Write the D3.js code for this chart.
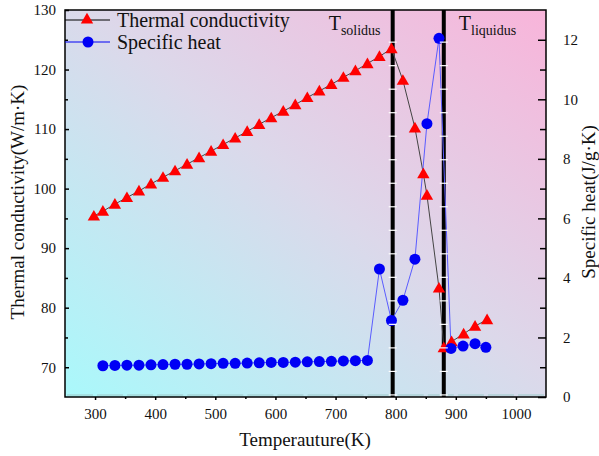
<!DOCTYPE html>
<html><head><meta charset="utf-8">
<script src="https://cdn.jsdelivr.net/npm/d3@7"></script>
<style>body{margin:0;background:#fff}svg{display:block;font-family:"Liberation Serif","Times New Roman",serif}svg text{font-family:"Liberation Serif","Times New Roman",serif}</style>
</head><body><svg id="c" width="599" height="456"></svg>
<script>
// ---- data ----
const tcTemps = [298,313,333,353,373,393,413,433,453,473,493,513,533,553,573,593,613,633,653,673,693,713,733,753,773,793,812,832,846,852,872,880,893,913,932,952];
const tcValues = [95.4,96.2,97.4,98.5,99.6,100.8,101.9,103.0,104.1,105.2,106.3,107.4,108.5,109.6,110.8,111.9,113.0,114.1,115.3,116.4,117.5,118.7,119.8,121.0,122.2,123.5,118.2,110.2,102.5,98.9,83.3,73.3,74.3,75.6,76.9,78.0];
const shTemps = [313,333,353,373,393,413,433,453,473,493,513,533,553,573,593,613,633,653,673,693,713,733,753,773,793,812,832,852,872,892,912,932,950];
const shValues = [1.05,1.06,1.07,1.07,1.08,1.09,1.10,1.10,1.11,1.12,1.13,1.13,1.14,1.15,1.16,1.16,1.17,1.18,1.19,1.20,1.21,1.22,1.23,4.30,2.57,3.25,4.63,9.18,12.05,1.63,1.71,1.79,1.67];
const xTicks = [300,400,500,600,700,800,900,1000];
const yLeftTicks = [70,80,90,100,110,120,130];
const yRightTicks = [0,2,4,6,8,10,12];
const phaseLines = [{t:795,main:"T",sub:"solidus"},{t:880,main:"T",sub:"liquidus"}];
const seriesNames = ["Thermal conductivity","Specific heat"];

const FONT='"Liberation Serif","Times New Roman",serif';
const L=65,R=546,T=10,B=397;
const svg=d3.select("#c");
const x=d3.scaleLinear().domain([250,1050]).range([L,R]);
const yL=d3.scaleLinear().domain([65,130]).range([B,T]);
const yR=d3.scaleLinear().domain([0,13]).range([B,T]);

// background gradient
const defs=svg.append("defs");
const g=defs.append("linearGradient").attr("id","bg").attr("gradientUnits","userSpaceOnUse")
 .attr("x1",L+40).attr("y1",B+60).attr("x2",R-20).attr("y2",T-80);
g.append("stop").attr("offset","0").attr("stop-color","#a6fbfc");
g.append("stop").attr("offset","0.5").attr("stop-color","#dcd8ea");
g.append("stop").attr("offset","1").attr("stop-color","#fdaed7");
svg.append("rect").attr("x",L).attr("y",T).attr("width",R-L).attr("height",B-T).attr("fill","url(#bg)");

// light line near bottom with gaps
const minorX=d3.range(250,1051,50);
for(let i=0;i<minorX.length-1;i++){
  svg.append("line").attr("x1",x(minorX[i])+2).attr("x2",x(minorX[i+1])-2)
    .attr("y1",B-2).attr("y2",B-2).attr("stroke","#9cc8c8").attr("stroke-width",1);
}

// phase lines
const white=d3.range(124.6,65,-3.95);
phaseLines.forEach(p=>{
  svg.append("line").attr("x1",x(p.t)).attr("x2",x(p.t)).attr("y1",T).attr("y2",B)
   .attr("stroke","#000").attr("stroke-width",4);
});

// lines
const lineTC=d3.line().x((d,i)=>x(tcTemps[i])).y(d=>yL(d));
const lineSH=d3.line().x((d,i)=>x(shTemps[i])).y(d=>yR(d));
svg.append("path").attr("d",lineTC(tcValues)).attr("fill","none").attr("stroke","#444").attr("stroke-width",1);
svg.append("path").attr("d",lineSH(shValues)).attr("fill","none").attr("stroke","#5a5cff").attr("stroke-width",1);

const tri=d3.symbol().type(d3.symbolTriangle).size(66);
svg.selectAll(".tc").data(tcValues).join("path")
 .attr("transform",(d,i)=>`translate(${x(tcTemps[i])},${yL(d)+1})`).attr("d",tri).attr("fill","#f00");
svg.selectAll(".sh").data(shValues).join("circle")
 .attr("cx",(d,i)=>x(shTemps[i])).attr("cy",d=>yR(d)).attr("r",5.5).attr("fill","#0000f5");

// white ticks on phase lines
phaseLines.forEach(p=>{
  white.forEach(v=>{
    svg.append("line").attr("x1",x(p.t)-4).attr("x2",x(p.t)+4).attr("y1",yL(v)).attr("y2",yL(v))
      .attr("stroke","#fff").attr("stroke-width",1.2);
  });
});

// phase labels
phaseLines.forEach(p=>{
  const t=svg.append("text").attr("x",x(p.t)-64+(p.sub==="liquidus"?79:0)).attr("y",30).attr("font-size",20).attr("fill","#111");
  t.append("tspan").text(p.main);
  t.append("tspan").attr("dy",5).attr("font-size",14).text(p.sub);
});

// frame
svg.append("rect").attr("x",L).attr("y",T).attr("width",R-L).attr("height",B-T).attr("fill","none").attr("stroke","#000").attr("stroke-width",1.5);

// axes
svg.append("g").attr("transform",`translate(0,${B})`)
 .call(d3.axisBottom(x).tickValues(xTicks).tickSize(3).tickPadding(8).tickFormat(d3.format("d")));
svg.append("g").attr("transform",`translate(0,${B})`)
 .call(d3.axisBottom(x).tickValues(d3.range(350,1050,100)).tickSize(2).tickFormat(""));
svg.append("g").attr("transform",`translate(${L},0)`)
 .call(d3.axisLeft(yL).tickValues(yLeftTicks).tickSize(-4).tickPadding(9).tickFormat(d3.format("d")));
svg.append("g").attr("transform",`translate(${L},0)`)
 .call(d3.axisLeft(yL).tickValues(d3.range(75,130,10)).tickSize(-3).tickFormat(""));
svg.append("g").attr("transform",`translate(${R},0)`)
 .call(d3.axisRight(yR).tickValues(yRightTicks).tickSize(-8).tickPadding(17).tickFormat(d3.format("d")));
svg.append("g").attr("transform",`translate(${R},0)`)
 .call(d3.axisRight(yR).tickValues(d3.range(1,13,2)).tickSize(-6).tickFormat(""));
svg.selectAll(".domain").remove();
svg.selectAll(".tick line").attr("stroke","#000").attr("stroke-width",1.5);
svg.selectAll("g").attr("font-family",null);
svg.selectAll(".tick text").style("font-family",FONT).attr("font-size",15).attr("fill","#111");

// axis titles
svg.append("text").attr("x",305).attr("y",446).attr("text-anchor","middle").attr("font-size",19).attr("fill","#111").text("Temperauture(K)");
svg.append("text").attr("transform","translate(24,202) rotate(-90)").attr("text-anchor","middle").attr("font-size",19).attr("fill","#111").text("Thermal conductivity(W/m·K)");
svg.append("text").attr("transform","translate(595,202) rotate(-90)").attr("text-anchor","middle").attr("font-size",19).attr("fill","#111").text("Specific heat(J/g·K)");

// legend
const leg=[{y:20,stroke:"#000",fill:"#f00",shape:"tri"},{y:42,stroke:"#0000f5",fill:"#0000f5",shape:"circ"}];
leg.forEach((l,i)=>{
  svg.append("line").attr("x1",L).attr("x2",L+45).attr("y1",l.y).attr("y2",l.y).attr("stroke",l.stroke).attr("stroke-width",1);
  if(l.shape==="tri") svg.append("path").attr("transform",`translate(${L+22},${l.y})`).attr("d",tri).attr("fill",l.fill);
  else svg.append("circle").attr("cx",L+23).attr("cy",l.y).attr("r",5.5).attr("fill",l.fill);
  svg.append("text").attr("x",L+52).attr("y",l.y+7).attr("font-size",20).attr("fill","#111").text(seriesNames[i]);
});
svg.selectAll("text").style("font-family",FONT);
</script></body></html>
